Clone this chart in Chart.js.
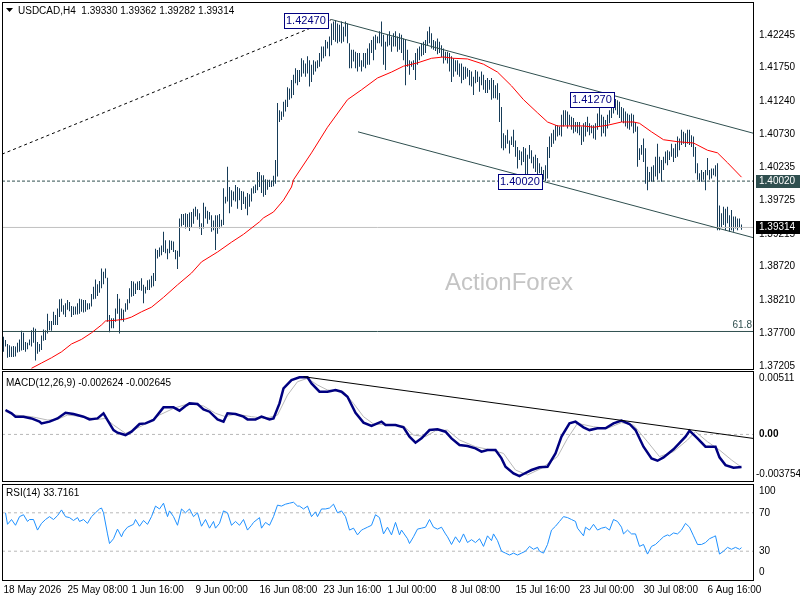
<!DOCTYPE html>
<html>
<head>
<meta charset="utf-8">
<title>USDCAD H4</title>
<script src="https://cdn.jsdelivr.net/npm/chart.js@4.4.1/dist/chart.umd.min.js"></script>
<style>
  body { margin: 0; background: #fff; width: 800px; height: 600px; overflow: hidden; position: relative; }
  canvas { position: absolute; left: 0; }
</style>
</head>
<body>
<canvas id="mainChart" width="800" height="370" style="top:0px"></canvas>
<canvas id="macdChart" width="800" height="112" style="top:370px"></canvas>
<canvas id="rsiChart" width="800" height="118" style="top:482px"></canvas>
<script>
// ---------- data (H4 bars, index 0 = 18 May 2026 00:00) ----------
var timeLabels = ['18 May 2026', '25 May 08:00', '1 Jun 16:00', '9 Jun 00:00', '16 Jun 08:00', '23 Jun 16:00',
                  '1 Jul 00:00', '8 Jul 08:00', '15 Jul 16:00', '23 Jul 00:00', '30 Jul 08:00', '6 Aug 16:00'];
var barsPerLabel = 32;
var priceTicks = [1.42245, 1.41750, 1.41240, 1.40730, 1.40235, 1.39725, 1.39215, 1.38720, 1.38210, 1.37700, 1.37205];
var ohlcLast = [1.39330, 1.39362, 1.39282, 1.39314];

var highs = [
  1.3765,1.3760,1.3754,1.3752,1.3750,1.3751,1.3750,1.3756,1.3761,1.3774,
  1.3771,1.3757,1.3756,1.3761,1.3775,1.3779,1.3777,1.3757,1.3754,1.3767,
  1.3776,1.3775,1.3800,1.3789,1.3789,1.3803,1.3798,1.3808,1.3822,1.3823,
  1.3813,1.3816,1.3821,1.3818,1.3812,1.3811,1.3811,1.3816,1.3823,1.3822,
  1.3821,1.3821,1.3816,1.3816,1.3830,1.3841,1.3852,1.3845,1.3850,1.3869,
  1.3864,1.3869,1.3855,1.3798,1.3793,1.3793,1.3808,1.3830,1.3823,1.3808,
  1.3806,1.3816,1.3822,1.3839,1.3850,1.3849,1.3846,1.3849,1.3850,1.3854,
  1.3844,1.3841,1.3851,1.3852,1.3858,1.3862,1.3899,1.3897,1.3901,1.3904,
  1.3925,1.3912,1.3899,1.3912,1.3911,1.3910,1.3897,1.3896,1.3945,1.3952,
  1.3952,1.3953,1.3952,1.3954,1.3955,1.3960,1.3963,1.3959,1.3953,1.3938,
  1.3969,1.3963,1.3957,1.3955,1.3950,1.3942,1.3950,1.3950,1.3952,1.3943,
  1.3991,1.3978,1.4024,1.3993,1.3988,1.3986,1.3996,1.3993,1.3991,1.3987,
  1.3986,1.3978,1.3984,1.3982,1.3991,1.3994,1.3997,1.4016,1.4016,1.4011,
  1.4011,1.4005,1.4004,1.4004,1.4003,1.4010,1.4034,1.4121,1.4110,1.4108,
  1.4123,1.4126,1.4145,1.4143,1.4156,1.4164,1.4174,1.4171,1.4171,1.4189,
  1.4186,1.4181,1.4192,1.4186,1.4179,1.4186,1.4184,1.4186,1.4197,1.4207,
  1.4207,1.4217,1.4214,1.4222,1.4242,1.4245,1.4247,1.4242,1.4240,1.4245,
  1.4237,1.4245,1.4242,1.4212,1.4202,1.4202,1.4199,1.4197,1.4197,1.4186,
  1.4197,1.4197,1.4204,1.4212,1.4217,1.4222,1.4225,1.4222,1.4230,1.4245,
  1.4225,1.4214,1.4225,1.4230,1.4222,1.4227,1.4230,1.4222,1.4227,1.4225,
  1.4219,1.4217,1.4202,1.4186,1.4184,1.4186,1.4197,1.4204,1.4207,1.4212,
  1.4214,1.4217,1.4230,1.4237,1.4227,1.4217,1.4215,1.4219,1.4214,1.4209,
  1.4204,1.4199,1.4199,1.4197,1.4192,1.4189,1.4186,1.4186,1.4181,1.4181,
  1.4176,1.4176,1.4174,1.4171,1.4169,1.4161,1.4171,1.4169,1.4161,1.4169,
  1.4164,1.4156,1.4159,1.4156,1.4159,1.4156,1.4148,1.4151,1.4136,1.4115,
  1.4075,1.4072,1.4080,1.4064,1.4070,1.4080,1.4064,1.4054,1.4049,1.4047,
  1.4054,1.4052,1.4042,1.4057,1.4049,1.4039,1.4042,1.4037,1.4029,1.4024,
  1.4019,1.4026,1.4054,1.4070,1.4075,1.4080,1.4087,1.4087,1.4085,1.4103,
  1.4110,1.4110,1.4108,1.4103,1.4100,1.4098,1.4092,1.4092,1.4092,1.4085,
  1.4090,1.4092,1.4100,1.4090,1.4087,1.4087,1.4090,1.4105,1.4115,1.4103,
  1.4100,1.4095,1.4103,1.4110,1.4118,1.4123,1.4127,1.4125,1.4123,1.4115,
  1.4113,1.4108,1.4105,1.4103,1.4105,1.4103,1.4092,1.4085,1.4052,1.4057,
  1.4067,1.4052,1.4024,1.4016,1.4024,1.4026,1.4039,1.4059,1.4039,1.4034,
  1.4039,1.4047,1.4049,1.4047,1.4059,1.4052,1.4059,1.4070,1.4067,1.4080,
  1.4077,1.4075,1.4080,1.4080,1.4072,1.4070,1.4054,1.4029,1.4014,1.4019,
  1.4016,1.4019,1.4037,1.4019,1.4021,1.4021,1.4026,1.4029,1.3965,1.3953,
  1.3963,1.3960,1.3963,1.3950,1.3958,1.3948,1.3948,1.3945,1.3945,1.3936
];
var lows = [
  1.3742,1.3750,1.3733,1.3734,1.3734,1.3734,1.3735,1.3741,1.3742,1.3744,
  1.3745,1.3742,1.3746,1.3752,1.3750,1.3756,1.3729,1.3739,1.3742,1.3745,
  1.3759,1.3760,1.3770,1.3775,1.3774,1.3783,1.3783,1.3783,1.3795,1.3803,
  1.3799,1.3795,1.3806,1.3804,1.3795,1.3798,1.3799,1.3799,1.3800,1.3803,
  1.3802,1.3803,1.3806,1.3807,1.3811,1.3822,1.3823,1.3827,1.3832,1.3839,
  1.3845,1.3854,1.3788,1.3772,1.3778,1.3778,1.3788,1.3800,1.3770,1.3790,
  1.3788,1.3803,1.3806,1.3816,1.3826,1.3827,1.3830,1.3836,1.3836,1.3835,
  1.3816,1.3831,1.3836,1.3836,1.3840,1.3842,1.3850,1.3884,1.3887,1.3889,
  1.3894,1.3892,1.3883,1.3892,1.3897,1.3894,1.3883,1.3868,1.3887,1.3933,
  1.3935,1.3930,1.3932,1.3926,1.3932,1.3937,1.3948,1.3943,1.3930,1.3920,
  1.3930,1.3945,1.3937,1.3943,1.3925,1.3927,1.3897,1.3922,1.3930,1.3933,
  1.3935,1.3968,1.3971,1.3953,1.3963,1.3973,1.3971,1.3960,1.3973,1.3958,
  1.3967,1.3960,1.3950,1.3963,1.3971,1.3983,1.3984,1.3988,1.3993,1.3984,
  1.3978,1.3981,1.3989,1.3993,1.3993,1.3994,1.3998,1.4009,1.4092,1.4095,
  1.4100,1.4108,1.4115,1.4126,1.4128,1.4133,1.4151,1.4148,1.4153,1.4161,
  1.4166,1.4161,1.4166,1.4146,1.4153,1.4164,1.4169,1.4174,1.4176,1.4184,
  1.4189,1.4192,1.4204,1.4192,1.4209,1.4217,1.4214,1.4212,1.4214,1.4212,
  1.4214,1.4222,1.4212,1.4174,1.4174,1.4184,1.4174,1.4169,1.4176,1.4169,
  1.4176,1.4174,1.4179,1.4179,1.4197,1.4186,1.4202,1.4212,1.4212,1.4207,
  1.4179,1.4171,1.4207,1.4209,1.4199,1.4207,1.4207,1.4199,1.4202,1.4197,
  1.4186,1.4148,1.4176,1.4164,1.4176,1.4171,1.4156,1.4179,1.4186,1.4192,
  1.4194,1.4197,1.4209,1.4212,1.4204,1.4202,1.4200,1.4195,1.4197,1.4191,
  1.4181,1.4186,1.4181,1.4169,1.4153,1.4161,1.4169,1.4164,1.4161,1.4151,
  1.4156,1.4158,1.4161,1.4148,1.4146,1.4133,1.4151,1.4153,1.4138,1.4148,
  1.4141,1.4136,1.4136,1.4141,1.4126,1.4128,1.4128,1.4126,1.4092,1.4052,
  1.4049,1.4052,1.4059,1.4044,1.4057,1.4054,1.4039,1.4021,1.4034,1.4026,
  1.4031,1.4009,1.4009,1.4036,1.4029,1.4021,1.4016,1.4009,1.4014,1.4009,
  1.4004,1.4002,1.4006,1.4037,1.4054,1.4059,1.4064,1.4070,1.4072,1.4070,
  1.4085,1.4087,1.4082,1.4087,1.4080,1.4075,1.4077,1.4075,1.4072,1.4057,
  1.4062,1.4070,1.4077,1.4072,1.4075,1.4067,1.4065,1.4080,1.4085,1.4070,
  1.4075,1.4070,1.4082,1.4090,1.4098,1.4105,1.4110,1.4103,1.4098,1.4092,
  1.4090,1.4085,1.4082,1.4080,1.4085,1.4075,1.4077,1.4024,1.4034,1.4042,
  1.4031,1.3998,1.3988,1.4001,1.4001,1.4001,1.4009,1.4004,1.4014,1.4001,
  1.4019,1.4029,1.4026,1.4034,1.4039,1.4031,1.4037,1.4039,1.4049,1.4057,
  1.4059,1.4054,1.4059,1.4057,1.4054,1.4039,1.4014,1.4004,1.4001,1.4001,
  1.4004,1.3988,1.4011,1.4004,1.4006,1.4011,1.4009,1.3927,1.3927,1.3932,
  1.3935,1.3927,1.3938,1.3925,1.3927,1.3925,1.3930,1.3927,1.3932,1.3928
];

// red moving average, read at intervals
var maBars = [14, 19, 24, 29, 34, 39, 44, 49, 51, 56, 61, 64, 69, 74, 80, 87, 94, 99, 107, 114,
              120, 128, 130, 135, 140, 144, 145, 154, 162, 172, 179, 187, 194, 200, 207, 214, 220, 225, 232, 240,
              247, 254, 260, 267, 272, 277, 284, 290, 295, 302, 309, 315, 318, 324, 330, 337, 345, 352, 357, 362, 369];
var maValues = [1.3717, 1.3725, 1.3733, 1.3742, 1.3754, 1.3761, 1.3771, 1.3783, 1.3789, 1.3790,
                1.3792, 1.3795, 1.3803, 1.3810, 1.3825, 1.3844, 1.3862, 1.3879, 1.3894, 1.3909,
                1.3921, 1.3940, 1.3946, 1.3955, 1.3973, 1.3993, 1.4004, 1.4045, 1.4084, 1.4126,
                1.4141, 1.4159, 1.4168, 1.4177, 1.4182, 1.4189, 1.4191, 1.4189, 1.4188, 1.4180,
                1.4168, 1.4147, 1.4126, 1.4106, 1.4092, 1.4086, 1.4086, 1.4086, 1.4084, 1.4087,
                1.4092, 1.4092, 1.4090, 1.4077, 1.4065, 1.4062, 1.4060, 1.4049, 1.4045, 1.4030, 1.4008];

// drawn lines and levels
var upperBars = [164, 374.75], upperPrices = [1.4248, 1.4075];
var lowerBars = [177.25, 374.75], lowerPrices = [1.4077, 1.3916];
var baseBars = [-0.75, 164], basePrices = [1.4043, 1.4248];
var supportLevel = 1.40020;
var lastPrice = 1.39314;
var fibLevel = 1.3773;
var markBars = [164, 271, 307];
var markPrices = [1.42470, 1.40020, 1.41270];

// MACD(12,26,9)
var macdBars = [1, 4, 6, 10, 14, 18, 19, 23, 27, 31, 35, 40, 43, 47, 50, 52, 55, 57, 61, 64,
                68, 71, 75, 80, 85, 88, 91, 93, 97, 100, 103, 107, 110, 112, 116, 120, 122, 126, 129, 133,
                135, 138, 140, 144, 148, 152, 154, 158, 162, 166, 169, 172, 176, 180, 184, 189, 191, 196, 200, 203,
                206, 209, 213, 217, 221, 224, 228, 232, 236, 239, 242, 246, 249, 251, 255, 258, 260, 264, 268, 272,
                276, 279, 283, 286, 290, 293, 297, 301, 305, 309, 313, 316, 320, 324, 327, 330, 335, 341, 343, 347,
                351, 356, 358, 361, 365, 369];
var macdMain = [0.00197, 0.00170, 0.00143, 0.00143, 0.00129, 0.00103, 0.00089, 0.00103, 0.00129, 0.00175,
                0.00164, 0.00143, 0.00121, 0.00129, 0.00170, 0.00116, 0.00035, 0.00014, -0.00005, 0.00022,
                0.00084, 0.00089, 0.00116, 0.00218, 0.00218, 0.00191, 0.00229, 0.00250, 0.00245, 0.00202,
                0.00183, 0.00121, 0.00103, 0.00170, 0.00164, 0.00143, 0.00121, 0.00121, 0.00143, 0.00121,
                0.00129, 0.00250, 0.00371, 0.00438, 0.00460, 0.00460, 0.00411, 0.00344, 0.00344, 0.00358,
                0.00344, 0.00304, 0.00175, 0.00095, 0.00068, 0.00103, 0.00076, 0.00076, 0.00057, -0.00018,
                -0.00067, -0.00032, 0.00035, 0.00041, 0.00022, -0.00032, -0.00085, -0.00093, -0.00112, -0.00139,
                -0.00126, -0.00126, -0.00193, -0.00260, -0.00314, -0.00336, -0.00319, -0.00287, -0.00265, -0.00260,
                -0.00153, -0.00018, 0.00089, 0.00103, 0.00057, 0.00035, 0.00049, 0.00049, 0.00089, 0.00111,
                0.00084, 0.00035, -0.00099, -0.00193, -0.00212, -0.00185, -0.00120, -0.00018, 0.00030, -0.00032,
                -0.00099, -0.00099, -0.00185, -0.00247, -0.00268, -0.002624];
var signalBars = [1, 6, 14, 22, 27, 32, 40, 47, 51, 55, 61, 65, 71, 78, 85, 93, 100, 106, 111, 116,
                  124, 131, 137, 142, 147, 152, 157, 162, 170, 175, 180, 185, 193, 200, 205, 211, 216, 222, 228, 236,
                  244, 250, 256, 262, 269, 277, 282, 287, 295, 302, 309, 315, 322, 328, 335, 342, 346, 352, 358, 364, 369];
var signalValues = [0.00183, 0.00156, 0.00143, 0.00116, 0.00121, 0.00156, 0.00143, 0.00121, 0.00129, 0.00076,
                    0.00009, 0.00035, 0.00084, 0.00156, 0.00210, 0.00250, 0.00229, 0.00170, 0.00143, 0.00164,
                    0.00143, 0.00129, 0.00156, 0.00317, 0.00425, 0.00452, 0.00398, 0.00358, 0.00344, 0.00250,
                    0.00143, 0.00084, 0.00076, 0.00068, -0.00005, -0.00018, 0.00030, 0.00035, -0.00045, -0.00099,
                    -0.00126, -0.00153, -0.00287, -0.00327, -0.00273, -0.00179, -0.00032, 0.00089, 0.00062, 0.00049,
                    0.00095, 0.00076, -0.00059, -0.00179, -0.00139, -0.00045, 0.00022, -0.00059, -0.00126, -0.00206, -0.002645];
var macdTrendBars = [150, 374.75], macdTrendValues = [0.00465, -0.00032];
var macdRange = [-0.003754, 0.00511];

// RSI(14)
var rsiBars = [1, 2, 4, 6, 8, 10, 12, 13, 15, 17,
               19, 21, 23, 25, 27, 29, 31, 33, 35, 37,
               38, 40, 42, 44, 46, 48, 49, 50, 52, 53,
               55, 57, 59, 60, 62, 65, 66, 68, 70, 72,
               74, 76, 78, 80, 82, 83, 85, 87, 89, 91,
               93, 95, 97, 99, 101, 103, 105, 106, 108, 110,
               112, 114, 116, 118, 120, 122, 124, 125, 128, 129,
               131, 133, 135, 137, 139, 141, 143, 145, 147, 148,
               150, 152, 154, 156, 157, 159, 161, 163, 165, 167,
               169, 171, 173, 175, 177, 179, 180, 182, 184, 186,
               188, 190, 192, 194, 196, 198, 199, 202, 203, 205,
               207, 209, 211, 213, 215, 217, 219, 221, 222, 224,
               226, 228, 230, 232, 234, 236, 238, 240, 242, 244,
               245, 247, 249, 251, 253, 255, 257, 259, 261, 263,
               265, 267, 268, 270, 272, 274, 276, 278, 280, 282,
               284, 286, 287, 290, 291, 293, 295, 297, 299, 301,
               303, 305, 307, 309, 310, 312, 314, 316, 318, 320,
               322, 324, 326, 328, 330, 332, 333, 335, 337, 339,
               341, 343, 345, 347, 349, 351, 353, 355, 356, 358,
               360, 362, 364, 366, 368, 369];
var rsiValues = [70, 58, 63, 57, 66, 68, 61, 63, 63, 52,
                 59, 63, 66, 63, 67, 73, 66, 65, 62, 65,
                 61, 63, 59, 66, 70, 74, 75, 70, 48, 38,
                 43, 53, 45, 50, 55, 58, 63, 56, 62, 58,
                 66, 77, 74, 80, 66, 72, 66, 57, 74, 70,
                 74, 66, 70, 56, 63, 54, 61, 54, 59, 72,
                 70, 57, 61, 57, 63, 52, 57, 60, 65, 54,
                 60, 57, 66, 78, 77, 79, 80, 81, 77, 77,
                 74, 77, 66, 71, 66, 74, 74, 75, 79, 70,
                 72, 66, 52, 54, 47, 52, 53, 55, 57, 68,
                 65, 48, 55, 47, 60, 47, 52, 43, 38, 45,
                 53, 54, 55, 63, 55, 53, 55, 48, 45, 37,
                 45, 39, 48, 39, 42, 39, 43, 35, 46, 41,
                 48, 41, 30, 28, 26, 28, 26, 28, 30, 35,
                 32, 34, 30, 28, 37, 52, 56, 61, 66, 65,
                 63, 61, 54, 46, 55, 52, 58, 52, 54, 55,
                 52, 63, 61, 55, 48, 52, 48, 48, 35, 37,
                 27, 35, 37, 41, 45, 47, 46, 49, 48, 52,
                 59, 55, 46, 37, 37, 39, 43, 45, 46, 27,
                 30, 34, 32, 34, 32, 33.7161];
var rsiLevels = [70, 30];

// ---------- helpers ----------
var FONT = '"Liberation Sans", Arial, sans-serif';
Chart.defaults.font.family = FONT;
Chart.defaults.font.size = 10;
Chart.defaults.color = '#000';

var xMin = -0.75, xMax = 374.75;

function pts(xs, ys) {
  return xs.map(function(x, i) { return {x: x, y: ys[i]}; });
}
function flat(level) {
  return [{x: xMin, y: level}, {x: xMax, y: level}];
}
function lineSet(data, color, width, dash) {
  return {type: 'line', data: data, borderColor: color, borderWidth: width, borderDash: dash || [],
          pointRadius: 0, fill: false, tension: 0};
}
// keep tick labels from shrinking the plot area
function noPad(s) {
  s.paddingTop = 0; s.paddingBottom = 0; s.paddingLeft = 0; s.paddingRight = 0;
}
function xAxis(show) {
  var ax = {type: 'linear', min: xMin, max: xMax, offset: false, display: show,
            grid: {display: false, drawTicks: false}, border: {display: false}};
  if (show) {
    ax.afterFit = function(s) { s.height = 20; noPad(s); };
    ax.afterBuildTicks = function(s) {
      s.ticks = timeLabels.map(function(t, i) { return {value: i * barsPerLabel}; });
    };
    ax.ticks = {autoSkip: false, maxRotation: 0, align: 'start', padding: 4,
                callback: function(v, i) { return timeLabels[i]; }};
  }
  return ax;
}
function yAxis(min, max, tickValues, fmt, font) {
  return {type: 'linear', position: 'right', min: min, max: max, beginAtZero: false,
          grid: {display: false, drawTicks: false}, border: {display: false},
          afterFit: function(s) { s.width = 47; noPad(s); },
          afterBuildTicks: function(s) { s.ticks = tickValues.map(function(v) { return {value: v}; }); },
          ticks: {autoSkip: false, padding: 6, callback: fmt, font: font || {size: 10}}};
}
function frame(c, a) {
  c.strokeStyle = '#000';
  c.lineWidth = 1;
  c.strokeRect(a.left + 0.5, a.top + 0.5, a.right - a.left, a.bottom - a.top);
}
function panelPlugin(title, titleOffset, edges) {
  return {
    id: 'panel',
    afterDraw: function(chart) {
      var c = chart.ctx, a = chart.chartArea;
      c.save();
      frame(c, a);
      c.font = '10px ' + FONT;
      c.fillStyle = '#000';
      c.textBaseline = 'middle';
      c.textAlign = 'left';
      c.fillText(title, 6, a.top + titleOffset);
      edges.forEach(function(e) {
        c.fillText(e[0], a.right + e[2], e[1] > 0 ? a.top + e[1] : a.bottom + e[1]);
      });
      c.restore();
    }
  };
}
var baseOptions = {
  responsive: false, animation: false, events: [],
  plugins: {legend: {display: false}, tooltip: {enabled: false}}
};
function opts(padding, scales) {
  return Object.assign({}, baseOptions, {layout: {padding: padding}, scales: scales});
}

// ---------- main price panel ----------
var mainOverlay = {
  id: 'mainOverlay',
  beforeDatasetsDraw: function(chart) {
    var c = chart.ctx;
    c.save();
    c.font = '24px ' + FONT;
    c.fillStyle = '#c4c4c4';
    c.textBaseline = 'middle';
    c.fillText('ActionForex', 445, 283);
    c.restore();
  },
  afterDraw: function(chart) {
    var c = chart.ctx, a = chart.chartArea, xs = chart.scales.x, ys = chart.scales.y;
    c.save();
    frame(c, a);

    // header
    c.fillStyle = '#000';
    c.beginPath(); c.moveTo(6, 8); c.lineTo(13, 8); c.lineTo(9.5, 12); c.closePath(); c.fill();
    c.font = '10px ' + FONT;
    c.textBaseline = 'middle';
    c.fillText('USDCAD,H4  ' + ohlcLast.map(function(v) { return v.toFixed(5); }).join(' '), 18, 11);

    // fib label
    c.fillStyle = '#2f4f4f';
    c.textAlign = 'right';
    c.textBaseline = 'bottom';
    c.fillText('61.8', a.right - 1, ys.getPixelForValue(fibLevel) - 1);

    // boxed price marks
    c.textAlign = 'left';
    c.textBaseline = 'middle';
    c.font = '11px ' + FONT;
    markBars.forEach(function(b, i) {
      var txt = markPrices[i].toFixed(5);
      var px = xs.getPixelForValue(b), py = ys.getPixelForValue(markPrices[i]);
      var w = Math.round(c.measureText(txt).width + 4);
      var x1 = Math.round(px - 4 - w), y1 = Math.round(py - 7.5);
      c.fillStyle = '#fff';
      c.fillRect(x1, y1, w, 15);
      c.strokeStyle = '#000080';
      c.strokeRect(x1 + 0.5, y1 + 0.5, w, 15);
      c.fillStyle = '#000080';
      c.fillText(txt, x1 + 2, y1 + 8);
    });

    // right axis value boxes
    c.font = '10px ' + FONT;
    [[supportLevel, '#2f4f4f'], [lastPrice, '#000']].forEach(function(p) {
      var py = Math.round(ys.getPixelForValue(p[0]));
      c.fillStyle = p[1];
      c.fillRect(a.right + 3, py - 6, 800 - a.right - 3, 13);
      c.fillStyle = '#fff';
      c.fillText(p[0].toFixed(5), a.right + 6, py + 0.5);
    });
    c.restore();
  }
};

new Chart(document.getElementById('mainChart'), {
  type: 'line',
  data: {
    datasets: [
      lineSet(pts(maBars, maValues), '#ff0000', 1),
      lineSet(pts(upperBars, upperPrices), '#2f4f4f', 1),
      lineSet(pts(lowerBars, lowerPrices), '#2f4f4f', 1),
      lineSet(pts(baseBars, basePrices), '#000', 1, [3, 3]),
      lineSet(flat(supportLevel), '#2f4f4f', 1, [3, 2]),
      lineSet(flat(fibLevel), '#2f4f4f', 1),
      lineSet(flat(lastPrice), '#c0c0c0', 1),
      {type: 'bar', data: highs.map(function(h, i) { return {x: i, y: [lows[i], h]}; }),
       backgroundColor: '#173c58', barThickness: 1, grouped: false, inflateAmount: 0, borderWidth: 0}
    ]
  },
  options: opts({left: 2, top: 2, bottom: 1, right: 0}, {
    x: xAxis(false),
    y: yAxis(1.37159, 1.42747, priceTicks, function(v) { return v.toFixed(5); })
  }),
  plugins: [mainOverlay]
});

// ---------- MACD panel ----------
new Chart(document.getElementById('macdChart'), {
  type: 'line',
  data: {
    datasets: [
      lineSet(pts(macdTrendBars, macdTrendValues), '#000', 1),
      lineSet(pts(macdBars, macdMain), '#000080', 2.5),
      lineSet(pts(signalBars, signalValues), '#b8b8b8', 1),
      lineSet(flat(0), '#b8b8b8', 1, [3, 3])
    ]
  },
  options: opts({left: 2, top: 1, bottom: 1, right: 0}, {
    x: xAxis(false),
    y: yAxis(macdRange[0], macdRange[1], [0], function(v) { return v.toFixed(2); },
             {size: 10, weight: 'bold'})
  }),
  plugins: [panelPlugin('MACD(12,26,9) ' + macdMain[macdMain.length - 1].toFixed(6) + ' ' +
                        signalValues[signalValues.length - 1].toFixed(6), 12,
                        [[macdRange[1].toFixed(5), 7, 6], [macdRange[0].toFixed(6), -7, 3]])]
});

// ---------- RSI panel ----------
new Chart(document.getElementById('rsiChart'), {
  type: 'line',
  data: {
    datasets: [
      lineSet(pts(rsiBars, rsiValues), '#1e90ff', 1),
      lineSet(flat(rsiLevels[0]), '#b8b8b8', 1, [3, 3]),
      lineSet(flat(rsiLevels[1]), '#b8b8b8', 1, [3, 3])
    ]
  },
  options: opts({left: 2, top: 2, bottom: 0, right: 0}, {
    x: xAxis(true),
    y: yAxis(0, 100, rsiLevels, function(v) { return String(v); })
  }),
  plugins: [panelPlugin('RSI(14) ' + rsiValues[rsiValues.length - 1].toFixed(4), 9,
                        [['100', 7, 6], ['0', -8, 6]])]
});
</script>
</body>
</html>
